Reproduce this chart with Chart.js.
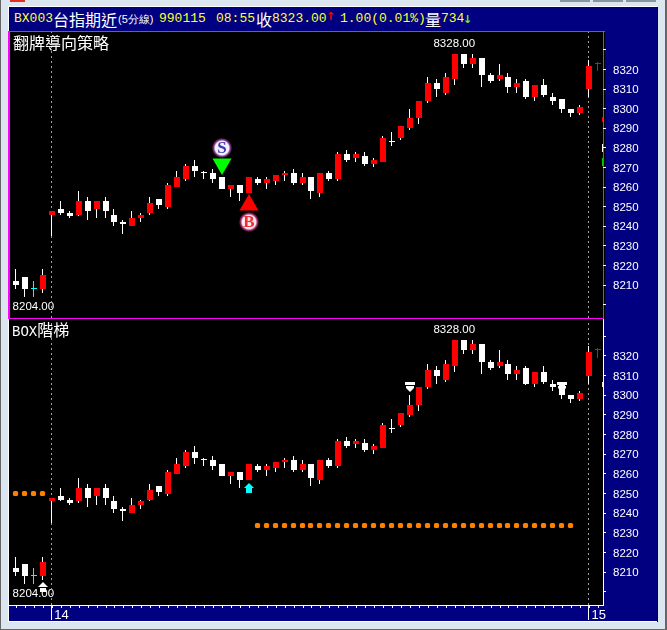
<!DOCTYPE html>
<html>
<head>
<meta charset="utf-8">
<title>BX003</title>
<script src="https://cdn.jsdelivr.net/npm/chart.js@4/dist/chart.umd.min.js"></script>
<style>
html, body { margin: 0; padding: 0; background: #dce6f1; overflow: hidden; }
#page { position: relative; width: 667px; height: 630px; overflow: hidden; }
#page div, #page span, #page canvas { position: absolute; }
.t { white-space: pre; line-height: 16px; font-family: "Liberation Mono", monospace; font-size: 13px; color: #ffff33; }
.w { color: #fff; }
.cjk { font-family: "Noto Sans CJK TC", sans-serif; font-size: 16px; color: #fff; }
.arrow { font-family: "DejaVu Sans", sans-serif; font-weight: bold; font-size: 11px; }
</style>
</head>
<body>
<div id="page">
  <div style="left:0;top:0;width:1px;height:630px;background:#666"></div>
  <div style="left:0;top:629px;width:667px;height:1px;background:#666"></div>
  <div style="left:665px;top:0;width:2px;height:630px;background:#666"></div>
  <div style="left:10px;top:0;width:15px;height:2px;background:#e03020"></div>
  <div style="left:560px;top:0;width:30px;height:2px;background:#8a94a0"></div>
  <div style="left:593px;top:0;width:30px;height:2px;background:#8a94a0"></div>
  <div style="left:626px;top:0;width:30px;height:2px;background:#8a94a0"></div>

  <!-- window: white frame with navy inside -->
  <div style="left:8px;top:6px;width:649px;height:616px;background:#fff"></div>
  <div style="left:9px;top:7px;width:648px;height:614px;background:#000080"></div>
  <div style="left:657px;top:7px;width:1px;height:615px;background:#000"></div>

  <!-- header -->
  <span class="t" style="left:14px;top:11px">BX003</span>
  <span class="t cjk" style="left:53px;top:11px">台指期近</span>
  <span class="t w" style="left:118px;top:11px;font-family:'Liberation Sans';font-size:11px">(5分線)</span>
  <span class="t" style="left:159px;top:11px">990115</span>
  <span class="t" style="left:216px;top:11px">08:55</span>
  <span class="t cjk" style="left:256px;top:11px">收</span>
  <span class="t" style="left:272px;top:11px">8323.00</span>
  <span class="t arrow" style="left:326px;top:9px;color:#ff0000">↑</span>
  <span class="t" style="left:340px;top:11px">1.00(0.01%)</span>
  <span class="t cjk" style="left:425px;top:11px">量</span>
  <span class="t" style="left:441px;top:11px">734</span>
  <span class="t arrow" style="left:463px;top:12px;color:#66ff00">↓</span>

  <!-- panels -->
  <div style="left:8px;top:31px;width:595px;height:288px;background:#000;border-top:1px solid #ff00ff;border-left:2px solid #ff00ff"></div>
  <div style="left:603px;top:31px;width:1px;height:288px;background:#ff00ff"></div>
  <div style="left:8px;top:318px;width:596px;height:1px;background:#ff00ff"></div>
  <div style="left:8px;top:319px;width:596px;height:287px;background:#000;border-left:0"></div>
  <div style="left:8px;top:319px;width:1px;height:287px;background:#fff"></div>
  <div style="left:603px;top:319px;width:1px;height:287px;background:#fff"></div>
  <div style="left:8px;top:605px;width:596px;height:1px;background:#fff"></div>

  <canvas id="chart1" width="647" height="286" style="left:10px;top:32px"></canvas>
  <canvas id="chart2" width="647" height="301" style="left:10px;top:320px"></canvas>

  <span class="t cjk" style="left:13px;top:34px">翻牌導向策略</span>
  <span class="t w" style="left:12px;top:321px;font-size:14px;font-family:'Liberation Mono'">BOX<span class="cjk" style="position:static">階梯</span></span>
</div>

<script>
// candles (5 min bars)
var opens = [8212,8214,8208,8208,8246,8249,8247,8246,8253,8249,8253,8246,8242,8240,8244,8247,8254,8250,8260,8264,8271,8267,8267,8265,8259,8261,8257,8264,8262,8263,8266,8267,8262,8265,8257,8267,8264,8277,8275,8276,8272,8273,8283,8285,8290,8295,8304,8313,8308,8315,8328,8323,8326,8317,8315,8316,8311,8314,8306,8312,8306,8305,8300,8298,8310,8323];
var closes = [8210,8208,8208,8215,8248,8247,8245,8253,8248,8253,8248,8242,8241,8244,8246,8252,8251,8261,8265,8271,8268,8267,8264,8259,8261,8257,8265,8262,8264,8266,8267,8262,8265,8258,8267,8264,8277,8274,8277,8272,8274,8285,8283,8291,8295,8304,8313,8310,8316,8328,8323,8326,8317,8314,8317,8311,8313,8306,8312,8307,8304,8300,8298,8301,8322,8323];
var highs = [8218,8214,8212,8218,8248,8253,8248,8258,8255,8253,8255,8249,8243,8248,8247,8255,8254,8262,8268,8272,8274,8268,8269,8265,8261,8261,8265,8265,8265,8266,8268,8269,8267,8265,8267,8268,8278,8279,8278,8278,8275,8286,8288,8291,8300,8304,8316,8315,8318,8328,8328,8328,8326,8318,8323,8318,8315,8315,8312,8315,8308,8305,8300,8302,8325,8324];
var lows = [8208,8204,8204,8206,8235,8246,8244,8245,8243,8244,8244,8240,8236,8240,8242,8246,8249,8249,8260,8263,8265,8264,8262,8259,8255,8253,8257,8261,8259,8261,8263,8261,8261,8254,8255,8263,8263,8273,8273,8271,8270,8273,8281,8284,8289,8292,8303,8306,8307,8312,8321,8321,8311,8313,8314,8308,8308,8305,8304,8306,8302,8298,8296,8297,8306,8319];

// doji colours by candle index, the others are white
var dojiColors = { 2: "#00ffff", 65: "#ff0000" };

// axis
var yTicks = [8200,8210,8220,8230,8240,8250,8260,8270,8280,8290,8300,8310,8320,8330];
var yLabels = [8210,8220,8230,8240,8250,8260,8270,8280,8290,8300,8310,8320];
var dayBreaks = [4, 64];
var dayLabels = ["14", "15"];

// BOX ladder levels in the lower panel
var boxFirst = [8250.5,8250.5,8250.5,8250.5];
var boxFirstIdx = [0,1,2,3];
var boxSecond = 8234;
var boxSecondFrom = 27;
var boxSecondTo = 62;

// signals
var sellIdx = 23, sellArrow = 8272, sellBadge = 8280;
var buyIdx = 26, buyArrow = 8251, buyBadge = 8242;
var whiteUpIdx = [3], whiteUpVal = [8202.5];
var cyanUpIdx = [26], cyanUpVal = [8253];
var whiteDownIdx = [44, 61], whiteDownVal = [8304, 8304];

// slivers showing at the right edge of each plot
var edgeLow = [8293, 8278, 8271];
var edgeHigh = [8296, 8282, 8275];
var edgeColors = ["#ff0000", "#ffffff", "#00cc00"];
var edgeLow2 = [8304];
var edgeHigh2 = [8307];
var edgeColors2 = ["#ffe8b0"];

var xMin = -0.7225, xMax = 65.5;
var textFont = "11.5px 'Liberation Sans'";

function makeCanvas(w, h, draw) {
    var c = document.createElement("canvas");
    c.width = w;
    c.height = h;
    draw(c.getContext("2d"));
    return c;
}

function upArrow(color, split) {
    return makeCanvas(10, 10, function (g) {
        g.fillStyle = color;
        g.beginPath();
        g.moveTo(5, 0);
        g.lineTo(10, 5);
        g.lineTo(0, 5);
        g.fill();
        g.fillRect(2, split ? 6 : 5, 6, split ? 4 : 5);
    });
}

function downArrow(color) {
    return makeCanvas(10, 10, function (g) {
        g.fillStyle = color;
        g.fillRect(0, 0, 10, 3);
        g.beginPath();
        g.moveTo(1, 4);
        g.lineTo(9, 4);
        g.lineTo(9, 6);
        g.lineTo(5, 10);
        g.lineTo(1, 6);
        g.fill();
    });
}

function badge(ring, glow, inner) {
    return makeCanvas(20, 20, function (g) {
        var grad = g.createRadialGradient(10, 10, 2, 10, 10, 10);
        grad.addColorStop(0, inner);
        grad.addColorStop(0.6, inner);
        grad.addColorStop(0.78, ring);
        grad.addColorStop(1, glow);
        g.fillStyle = grad;
        g.beginPath();
        g.arc(10, 10, 10, 0, Math.PI * 2);
        g.fill();
    });
}

function pts(idx, vals) {
    var out = [];
    for (var i = 0; i < idx.length; i++) {
        out.push({ x: idx[i], y: vals[i] });
    }
    return out;
}

function markerSet(data, style, radius, extra) {
    var d = {
        type: "line",
        data: data,
        showLine: false,
        pointStyle: style,
        pointRadius: radius,
        pointBackgroundColor: "#fff",
        pointBorderWidth: 0,
        snap: "marker",
        order: 0
    };
    for (var k in extra) {
        d[k] = extra[k];
    }
    return d;
}

function edgeSet(low, high, colors) {
    var data = [];
    for (var i = 0; i < low.length; i++) {
        data.push({ x: xMax, y: [low[i], high[i]] });
    }
    return { type: "bar", data: data, backgroundColor: colors, barThickness: 2, grouped: false, inflateAmount: 0, snap: "body", order: 1 };
}

function noPadding(s) {
    s.paddingTop = 0;
    s.paddingBottom = 0;
    s.paddingLeft = 0;
    s.paddingRight = 0;
}

// keep the candles on whole pixels, the original is a bitmap chart
var snapPlugin = {
    id: "snapPlugin",
    afterDatasetsUpdate: function (chart) {
        chart.data.datasets.forEach(function (ds, n) {
            var meta = chart.getDatasetMeta(n);
            meta.data.forEach(function (el) {
                if (ds.snap == "body") {
                    el.x = Math.floor(el.x);
                    el.y = Math.round(el.y);
                    el.base = Math.round(el.base);
                } else if (ds.snap == "wick") {
                    el.x = Math.floor(el.x) - 0.5;
                    el.y = Math.round(el.y);
                    el.base = Math.round(el.base);
                } else if (ds.snap == "marker") {
                    el.x = Math.floor(el.x);
                    el.y = Math.round(el.y);
                } else if (ds.snap == "dot") {
                    el.x = Math.floor(el.x) - 0.5;
                    el.y = Math.round(el.y) + 0.5;
                } else if (ds.snap == "break") {
                    el.x = Math.floor(el.x) - 0.5;
                }
            });
        });
    }
};

// high and low price labels
var extremesPlugin = {
    id: "extremesPlugin",
    beforeDatasetsDraw: function (chart) {
        var g = chart.ctx;
        var hi = Math.max.apply(null, highs);
        var lo = Math.min.apply(null, lows);
        var sx = chart.scales.x, sy = chart.scales.y;
        g.save();
        g.font = textFont;
        g.fillStyle = "#fff";
        g.textAlign = "center";
        g.textBaseline = "middle";
        g.fillText(hi.toFixed(2), sx.getPixelForValue(highs.indexOf(hi)) - 1, sy.getPixelForValue(hi) - 10);
        g.fillText(lo.toFixed(2), sx.getPixelForValue(lows.indexOf(lo) + 1) - 1, sy.getPixelForValue(lo) + 10);
        g.restore();
    },
    afterDatasetsDraw: function (chart) {
        var g = chart.ctx;
        chart.data.datasets.forEach(function (ds, n) {
            if (!ds.letter) return;
            var p = chart.getDatasetMeta(n).data[0];
            g.save();
            g.font = "bold 17px 'Liberation Serif'";
            g.fillStyle = ds.letterColor;
            g.textAlign = "center";
            g.textBaseline = "middle";
            g.fillText(ds.letter, p.x, p.y + 1);
            g.restore();
        });
    },
    afterDraw: function (chart) {
        // long tick at the start of each day
        if (!chart.options.scales.x.display) return;
        var g = chart.ctx;
        g.save();
        g.strokeStyle = "#fff";
        g.lineWidth = 1;
        dayBreaks.forEach(function (b) {
            var x = Math.floor(chart.scales.x.getPixelForValue(b)) - 0.5;
            g.beginPath();
            g.moveTo(x, chart.chartArea.bottom);
            g.lineTo(x, chart.chartArea.bottom + 15);
            g.stroke();
        });
        g.restore();
    }
};

function buildChart(id, yMin, yMax, showX, extraSets) {
    var bodies = [], wicks = [], bodyColors = [], wickColors = [];
    for (var i = 0; i < opens.length; i++) {
        bodies.push({ x: i, y: [opens[i], closes[i]] });
        wicks.push({ x: i, y: [lows[i], highs[i]] });
        var doji = opens[i] == closes[i];
        var dojiColor = dojiColors[i] || "#fff";
        bodyColors.push(doji ? dojiColor : (closes[i] > opens[i] ? "#ff0000" : "#fff"));
        wickColors.push(doji ? dojiColor : "#fff");
    }

    var sets = [
        { type: "bar", data: bodies, backgroundColor: bodyColors, barThickness: 6, minBarLength: 1, grouped: false, inflateAmount: 0, snap: "body", order: 1 },
        { type: "bar", data: wicks, backgroundColor: wickColors, barThickness: 1, grouped: false, inflateAmount: 0, snap: "wick", order: 2 }
    ];
    dayBreaks.forEach(function (b) {
        sets.push({
            type: "line",
            data: [{ x: b, y: yMin }, { x: b, y: yMax }],
            borderColor: "#a0a0a0",
            borderWidth: 1,
            borderDash: [2, 3],
            pointRadius: 0,
            snap: "break",
            order: 3
        });
    });

    return new Chart(document.getElementById(id), {
        type: "bar",
        data: { datasets: sets.concat(extraSets) },
        plugins: [snapPlugin, extremesPlugin],
        options: {
            responsive: false,
            animation: false,
            layout: { autoPadding: false, padding: 0 },
            plugins: { legend: { display: false }, tooltip: { enabled: false } },
            events: [],
            scales: {
                x: {
                    type: "linear",
                    display: showX,
                    min: xMin,
                    max: xMax,
                    offset: false,
                    afterBuildTicks: function (s) {
                        var t = [];
                        for (var i = 0; i < opens.length; i++) t.push({ value: i });
                        s.ticks = t;
                    },
                    afterFit: function (s) {
                        s.height = showX ? 16 : 0;
                        noPadding(s);
                    },
                    grid: { drawOnChartArea: false, offset: false, color: "#fff", tickLength: 3 },
                    border: { display: false },
                    ticks: {
                        autoSkip: false,
                        maxRotation: 0,
                        color: "#fff",
                        padding: 0,
                        align: "start",
                        labelOffset: 2,
                        font: { family: "Liberation Sans", size: 13 },
                        callback: function (v) {
                            var n = dayBreaks.indexOf(v);
                            return n >= 0 ? dayLabels[n] : "";
                        }
                    }
                },
                y: {
                    position: "right",
                    min: yMin,
                    max: yMax,
                    afterBuildTicks: function (s) {
                        s.ticks = yTicks.map(function (v) { return { value: v }; });
                    },
                    afterFit: function (s) {
                        s.width = 54;
                        noPadding(s);
                    },
                    grid: { drawOnChartArea: false, color: "#fff", tickLength: 3 },
                    border: { display: false },
                    ticks: {
                        autoSkip: false,
                        color: "#fff",
                        padding: 7,
                        labelOffset: 1,
                        font: { family: "Liberation Sans", size: 11.5 },
                        callback: function (v) {
                            return yLabels.indexOf(v) >= 0 ? String(v) : "";
                        }
                    }
                }
            }
        }
    });
}

buildChart("chart1", 8193.2, 8339.13, false, [
    edgeSet(edgeLow, edgeHigh, edgeColors),
    markerSet(pts([sellIdx], [sellArrow]), "triangle", 11, { rotation: 180, pointBackgroundColor: "#00ff00" }),
    markerSet(pts([buyIdx], [buyArrow]), "triangle", 11, { pointBackgroundColor: "#ff0000" }),
    markerSet(pts([sellIdx], [sellBadge]), badge("#8a3a8a", "#200820", "#f4f0ff"), 10, { letter: "S", letterColor: "#3a3ab0" }),
    markerSet(pts([buyIdx], [buyBadge]), badge("#a03070", "#280818", "#ffe8f0"), 10, { letter: "B", letterColor: "#f03030" })
]);

var ladderTwo = [];
for (var k = boxSecondFrom; k <= boxSecondTo; k++) {
    ladderTwo.push({ x: k, y: boxSecond });
}

buildChart("chart2", 8193.35, 8338.31, true, [
    edgeSet(edgeLow2, edgeHigh2, edgeColors2),
    markerSet(pts(boxFirstIdx, boxFirst), "rectRounded", 3, { pointBackgroundColor: "#ff8000", snap: "dot", order: 1 }),
    markerSet(ladderTwo, "rectRounded", 3, { pointBackgroundColor: "#ff8000", snap: "dot", order: 1 }),
    markerSet(pts(whiteUpIdx, whiteUpVal), upArrow("#fff", true), 5),
    markerSet(pts(cyanUpIdx, cyanUpVal), upArrow("#00ffff", false), 5),
    markerSet(pts(whiteDownIdx, whiteDownVal), downArrow("#fff"), 5)
]);
</script>
</body>
</html>
